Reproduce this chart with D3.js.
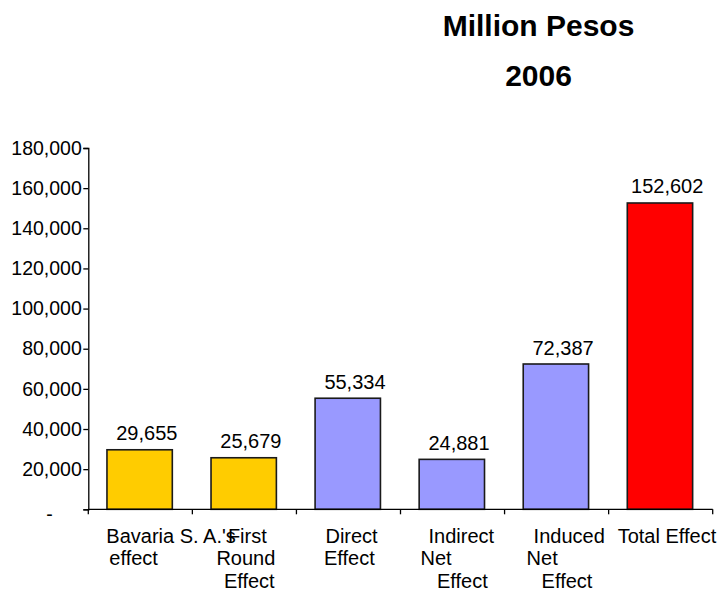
<!DOCTYPE html>
<html>
<head>
<meta charset="utf-8">
<script src="https://cdn.jsdelivr.net/npm/d3@7/dist/d3.min.js"></script>
<style>
  body { margin: 0; background: #fff; }
  svg { display: block; }
  text { font-family: "Liberation Sans", Arial, Helvetica, sans-serif; fill: #000; }
</style>
</head>
<body>
<svg id="chart" width="723" height="591"></svg>
<script>
// ---- data ----
const categories = [
  "Bavaria S. A.'s effect",
  "First Round Effect",
  "Direct Effect",
  "Indirect Net Effect",
  "Induced Net Effect",
  "Total Effect"
];
const categoryLines = [
  ["Bavaria S. A.'s", "effect"],
  ["First", "Round", "Effect"],
  ["Direct", "Effect"],
  ["Indirect", "Net", "Effect"],
  ["Induced", "Net", "Effect"],
  ["Total Effect"]
];
const values = [29655, 25679, 55334, 24881, 72387, 152602];
const barGroups = ["company", "company", "economy", "economy", "economy", "total"];
const yTickValues = [0, 20000, 40000, 60000, 80000, 100000, 120000, 140000, 160000, 180000];
const titleLines = ["Million Pesos", "2006"];

// ---- layout / style ----
const W = 723, H = 591;
const plot = { left: 88.3, right: 712.7, top: 148, bottom: 509.3 };
const groupColor = { company: "#FFCC00", economy: "#9999FF", total: "#FF0000" };
// horizontal start of each wrapped label line, relative to the category centre
const lineStart = [
  [-34, -31],
  [-16.5, -28, -20.5],
  [-23, -24.5],
  [-24, -32, -15.5],
  [-23, -30, -15],
  [-43]
];

const svg = d3.select("#chart");

const x = d3.scaleBand().domain(categories).range([plot.left, plot.right]).padding(0);
const y = d3.scaleLinear().domain([0, 180000]).range([plot.bottom, plot.top]);

const fmt = d3.format(",");

// title
svg.append("g").selectAll("text").data(titleLines).join("text")
  .attr("x", 538.5)
  .attr("y", (d, i) => 36 + i * 49.5)
  .attr("text-anchor", "middle")
  .style("font-size", "30px")
  .style("font-weight", "bold")
  .text(d => d);

// y axis
const yAxis = d3.axisLeft(y)
  .tickValues(yTickValues)
  .tickSize(5)
  .tickPadding(1.5)
  .tickFormat(d => d === 0 ? "-" : fmt(d));

const gy = svg.append("g")
  .attr("transform", `translate(${plot.left},0)`)
  .call(yAxis);
gy.select(".domain").attr("stroke", "#000").attr("stroke-width", 1.3);
gy.selectAll(".tick line").attr("stroke", "#000").attr("stroke-width", 1.3);
gy.selectAll(".tick text")
  .attr("fill", "#000")
  .style("font-size", "19.5px")
  .attr("font-family", null);
gy.selectAll(".tick").filter(d => d === 0).select("text")
  .attr("x", -35.5)
  .attr("dy", "0.55em");

// bars
const barW = x.step() * 0.628;
svg.append("g").selectAll("rect").data(values).join("rect")
  .attr("x", (d, i) => x(categories[i]) + x.bandwidth() / 2 - barW / 2 - 0.7)
  .attr("y", d => y(d))
  .attr("width", barW)
  .attr("height", d => y(0) - y(d))
  .attr("fill", (d, i) => groupColor[barGroups[i]])
  .attr("stroke", "#1a1a1a")
  .attr("stroke-width", 1.6);

// value labels
svg.append("g").selectAll("text").data(values).join("text")
  .attr("x", (d, i) => x(categories[i]) + x.bandwidth() / 2 + 6.5)
  .attr("y", d => y(d) - 9.5)
  .attr("text-anchor", "middle")
  .style("font-size", "20px")
  .text(d => fmt(d));

// x axis: baseline with ticks at category boundaries
const gx = svg.append("g");
gx.append("line")
  .attr("x1", plot.left).attr("x2", plot.right)
  .attr("y1", y(0)).attr("y2", y(0))
  .attr("stroke", "#000").attr("stroke-width", 1.3);
const boundaries = categories.map(c => x(c)).concat([x(categories[categories.length - 1]) + x.step()]);
gx.selectAll("line.tick").data(boundaries).join("line")
  .attr("class", "tick")
  .attr("x1", d => d).attr("x2", d => d)
  .attr("y1", y(0)).attr("y2", y(0) + 5)
  .attr("stroke", "#000").attr("stroke-width", 1.3);

// category labels
const catG = svg.append("g").selectAll("g").data(categoryLines).join("g");
catG.each(function (lines, i) {
  const cx = x(categories[i]) + x.bandwidth() / 2;
  d3.select(this).selectAll("text").data(lines).join("text")
    .attr("x", (d, j) => cx + lineStart[i][j])
    .attr("y", (d, j) => 542.8 + j * 22.4)
    .style("font-size", "20px")
    .text(d => d);
});
</script>
</body>
</html>
